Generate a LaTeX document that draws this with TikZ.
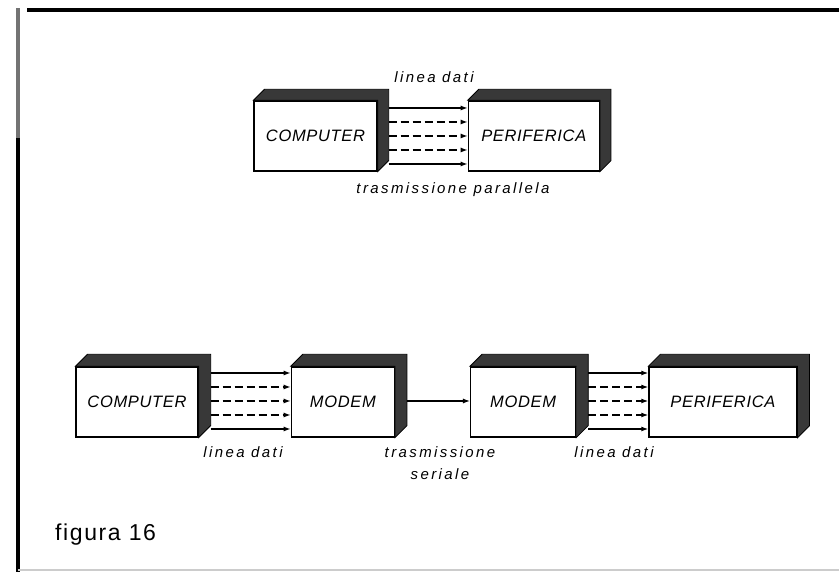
\documentclass[tikz,border=0pt]{standalone}
\usepackage{fontspec}
\setmainfont{Liberation Sans}
\newfontfamily\boxfont[LetterSpace=4]{Liberation Sans}
\newfontfamily\lblfont[LetterSpace=16]{Liberation Sans}
\newfontfamily\capfont[LetterSpace=7]{Liberation Sans}
\usetikzlibrary{arrows.meta,positioning}

\begin{document}
\begin{tikzpicture}[x=1bp, y=1bp,
  unit/.style={draw, line width=1.3bp, fill=white, inner sep=0pt,
    minimum height=70bp, font=\boxfont\itshape\fontsize{16.5bp}{19bp}\selectfont},
  band/.style={fill=black!78, draw=black, line width=0.8bp},
  wire/.style={-{Latex[length=7bp,width=5bp]}, line width=1.2bp},
  dsh/.style={dash pattern=on 8bp off 4bp},
  lbl/.style={anchor=base, inner sep=0pt, align=center,
    font=\lblfont\itshape\fontsize{15bp}{22bp}\selectfont},
  frame/.style={line width=4bp}
]
\useasboundingbox (0,0) rectangle (839,572);
% frame of the page
\draw[frame] (27,561.5) -- (839,561.5);
\draw[frame, black!55] (17.5,563.5) -- (17.5,434);
\draw[frame] (17.5,434) -- (17.5,0);
\draw[black!20, line width=2bp] (17.5,2) -- (839,2);

% parallel link
\node[unit, minimum width=123bp] (pc1) at (315.5,436) {COMPUTER};
\node[unit, minimum width=131bp, right=90bp of pc1] (per1) {PERIFERICA};

% serial link through two modems
\node[unit, minimum width=122bp] (pc2) at (137,170) {COMPUTER};
\node[unit, minimum width=103bp, right=92bp of pc2] (mdm1) {MODEM};
\node[unit, minimum width=105bp, right=75bp of mdm1] (mdm2) {MODEM};
\node[unit, minimum width=148bp, right=72bp of mdm2] (per2) {PERIFERICA};

\foreach \n/\d in {pc1/11, per1/11, pc2/12, mdm1/12, mdm2/12, per2/12}
  \filldraw[band] (\n.north west) -- ++(\d,\d) -- ([shift={(\d,\d)}]\n.north east)
    -- ([shift={(\d,\d)}]\n.south east) -- (\n.south east) -- (\n.north east) -- cycle;

\foreach \k/\s in {28/solid, 14/dsh, 0/dsh, -14/dsh, -28/solid}
  \draw[wire, \s] ([shift={(11,\k)}]pc1.east) -- ([shift={(0,\k)}]per1.west);
\foreach \k/\s in {29/solid, 15/dsh, 1/dsh, -13/dsh, -27/solid} {
  \draw[wire, \s] ([shift={(12,\k)}]pc2.east) -- ([shift={(0,\k)}]mdm1.west);
  \draw[wire, \s] ([shift={(12,\k)}]mdm2.east) -- ([shift={(0,\k)}]per2.west);
}
\draw[wire] ([shift={(12,1)}]mdm1.east) -- ([shift={(0,1)}]mdm2.west);

\node[lbl] (ld1) at (434,489) {linea dati};
\node[lbl] (tp) at (453,378) {trasmissione parallela};
\node[lbl] (ld2) at (243,114) {linea dati};
\node[lbl] (ts) at (440,92) {trasmissione\\seriale};
\node[lbl] (ld3) at (614,114) {linea dati};

\node[anchor=base west, inner sep=0pt, font=\capfont\fontsize{23bp}{27bp}\selectfont]
  (fig) at (55,31) {figura 16};
\end{tikzpicture}
\end{document}
